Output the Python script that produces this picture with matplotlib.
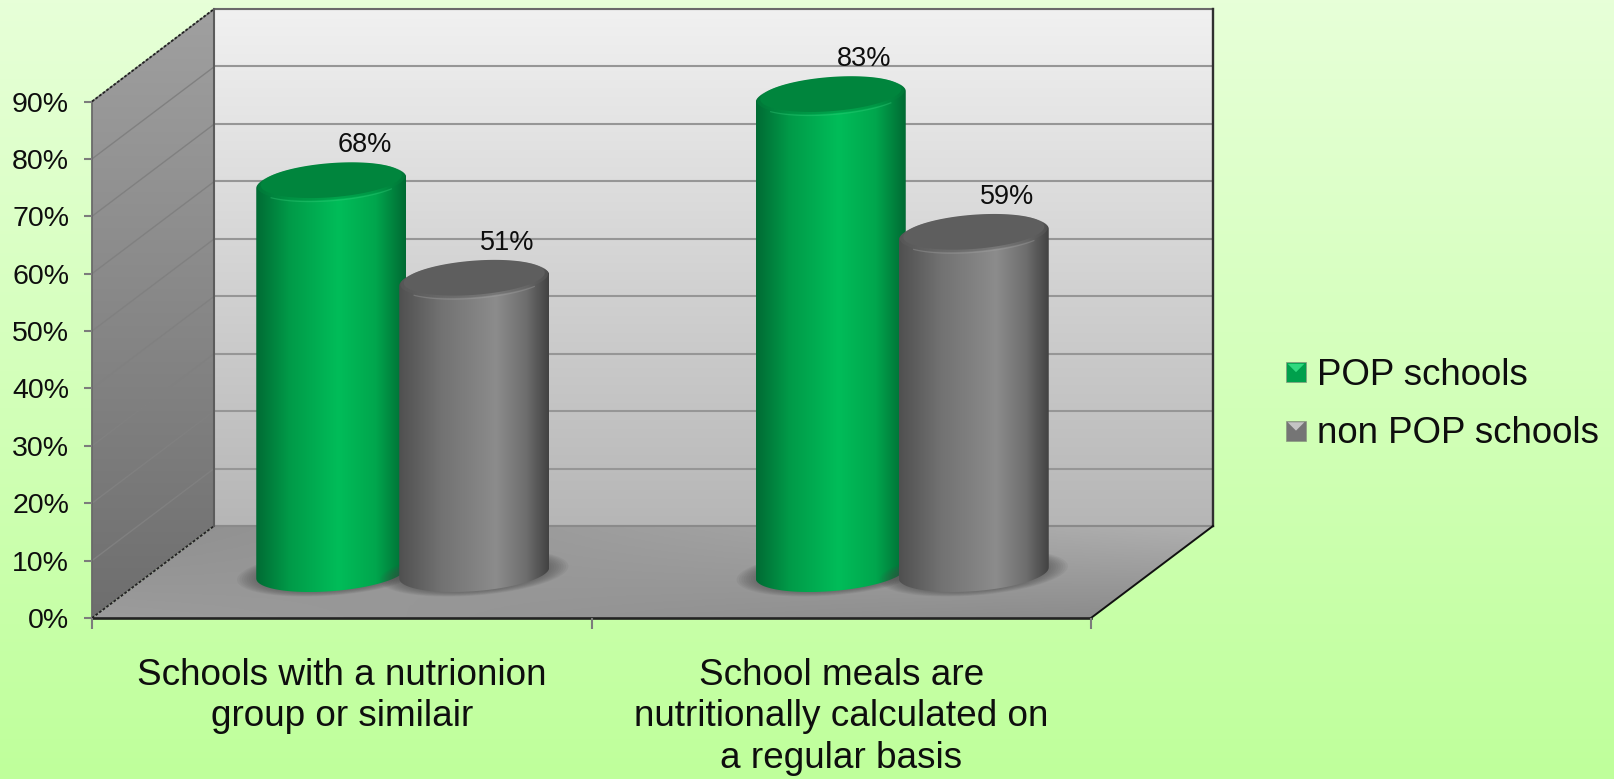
import numpy as np
import matplotlib
matplotlib.use("Agg")
import matplotlib.pyplot as plt
from matplotlib.colors import LinearSegmentedColormap, to_rgb
from matplotlib.patches import Polygon, PathPatch, Rectangle
from matplotlib.path import Path
from matplotlib.legend_handler import HandlerBase

categories = ["Schools with a nutrionion\ngroup or similair",
              "School meals are\nnutritionally calculated on\na regular basis"]
series_names = ["POP schools", "non POP schools"]
pop_values = [68, 83]
non_pop_values = [51, 59]
y_ticks = list(range(0, 100, 10))

plt.rcParams['font.family'] = ['Liberation Sans', 'DejaVu Sans']
W, H = 1614, 779
fig = plt.figure(figsize=(W / 100, H / 100), dpi=100)

# layout in pixels
FL, FB, FT = 92, 618, 101.5
BL, BB, BT = 214, 526, 9
SPAN = 999
PX_Y = (FB - FT) / 90
TXT = '#0e0e0e'


def axes_px(left, top, right, bottom, z):
    a = fig.add_axes([left / W, 1 - bottom / H, (right - left) / W, (bottom - top) / H])
    a.set_zorder(z)
    a.patch.set_alpha(0)
    return a


def lin(c1, c2, n=256):
    t = np.linspace(0, 1, n)[:, None]
    return np.array(to_rgb(c1)) * (1 - t) + np.array(to_rgb(c2)) * t


# background and frame
bg = axes_px(0, 0, W, H, 0)
bg.set_xlim(0, W)
bg.set_ylim(H, 0)
bg.axis('off')
bg.imshow(lin('#e7ffd8', '#bfff9b')[:, None, :], extent=(0, W, H, 0), aspect='auto', zorder=0)

side = Polygon([(FL, FT), (BL, BT), (BL, BB), (FL, FB)], closed=True, fc='none', ec='none')
bg.add_patch(side)
im = bg.imshow(lin('#a0a0a0', '#6e6e6e')[:, None, :], extent=(FL, BL, FB, BT), aspect='auto', zorder=1)
im.set_clip_path(side)

floor = Polygon([(BL, BB), (BL + SPAN, BB), (FL + SPAN, FB), (FL, FB)], closed=True, fc='none', ec='none')
bg.add_patch(floor)
u = np.linspace(0, 1, 128)[None, :, None]
v = np.linspace(0, 1, 64)[:, None, None]
tl, tr, bl_, br = [np.array(to_rgb(c)) for c in ('#8e8e8e', '#b0b0b0', '#9c9c9c', '#8a8a8a')]
fimg = (1 - v) * ((1 - u) * tl + u * tr) + v * ((1 - u) * bl_ + u * br)
im = bg.imshow(fimg, extent=(FL, BL + SPAN, FB, BB), aspect='auto', zorder=1)
im.set_clip_path(floor)
bg.set_xlim(0, W)
bg.set_ylim(H, 0)

# back wall
back = axes_px(BL, BT, BL + SPAN, BB, 1)
back.imshow(lin('#f1f1f1', '#b6b6b6')[:, None, :], extent=(0, 2, 0, 90), aspect='auto', zorder=0)
back.set_xlim(0, 2)
back.set_ylim(0, 90)
back.set_yticks(y_ticks)
back.set_xticks([])
back.tick_params(length=0, labelleft=False)
back.grid(axis='y', color='#969696', lw=1.5, zorder=1)
back.set_axisbelow(False)
for s in back.spines.values():
    s.set_visible(False)

# front axes: ticks and labels
front = axes_px(FL, FT, FL + SPAN, FB, 2)
front.set_xlim(0, 2)
front.set_ylim(0, 90)
front.set_yticks(y_ticks)
front.set_yticklabels([f"{t}%" for t in y_ticks])
front.set_xticks([0, 1, 2])
front.set_xticklabels([])
front.set_xticks([0.5, 1.5], minor=True)
front.set_xticklabels(categories, minor=True, fontsize=26.6, color=TXT, linespacing=1.245,
                      va='top', ha='center')
front.tick_params(axis='y', length=6, width=1.5, color='#7c7c7c', pad=10.5, labelsize=20.5, labelcolor=TXT)
front.tick_params(axis='x', which='major', length=8, width=1.5, color='#7c7c7c')
front.tick_params(axis='x', which='minor', length=0, pad=28.5)
for s in front.spines.values():
    s.set_visible(False)

# frame lines drawn above walls
dx, dy = BL - FL, BB - FB
for t in y_ticks[1:]:
    yf = FB - t * PX_Y
    bg.plot([FL, BL], [yf, yf + dy], color='#808080', lw=1.0, zorder=2)
bg.plot([FL, FL], [FT, FB], color='#6a6a6a', lw=1.3, zorder=3)
bg.plot([FL, BL], [FT, BT], color='#222222', lw=1.3, ls=(0, (1.5, 1)), zorder=3)
bg.plot([FL, BL], [FB, BB], color='#222222', lw=1.3, ls=(0, (1.5, 1)), zorder=3)
back_frame = axes_px(0, 0, W, H, 1.5)
back_frame.set_xlim(0, W)
back_frame.set_ylim(H, 0)
back_frame.axis('off')
back_frame.plot([BL, BL + SPAN], [BT, BT], color='#6a6a6a', lw=1.5)
back_frame.plot([BL, BL + SPAN], [BB, BB], color='#8a8a8a', lw=1.5)
back_frame.plot([BL + SPAN, BL + SPAN], [BT, BB], color='#303030', lw=1.7)
back_frame.plot([BL, BL], [BT, BB], color='#5c5c5c', lw=1.5)
back_frame.plot([BL + SPAN, FL + SPAN], [BB, FB], color='#111111', lw=1.4)
back_frame.plot([FL, FL + SPAN], [FB, FB], color='#222222', lw=1.9)
back_frame.set_xlim(0, W)
back_frame.set_ylim(H, 0)

# cylinders
Y_LOW = -6
BASE_PX = 573
bars = axes_px(FL + 61, BASE_PX - 90 * PX_Y, FL + 61 + SPAN, BASE_PX - Y_LOW * PX_Y, 3)
bars.set_xlim(0, 2)
bars.set_ylim(Y_LOW, 90)
bars.axis('off')
SX, SY = 2 / SPAN, 1 / PX_Y
A, B, TILT = 75 * SX, 18.2 * SY, 5.5 * SY
OFFSET = 71.5 * SX

green_cmap = LinearSegmentedColormap.from_list('g', [(0, '#006b34'), (.22, '#009a48'), (.55, '#00bd59'),
                                                     (.8, '#00a64d'), (1, '#006a33')])
grey_cmap = LinearSegmentedColormap.from_list('k', [(0, '#505050'), (.28, '#727272'), (.65, '#8c8c8c'),
                                                    (.85, '#6e6e6e'), (1, '#424242')])
styles = [(green_cmap, '#00853d', '#3ad07e'), (grey_cmap, '#5e5e5e', '#a6a6a6')]


def ell(cx, cy, t, scale=1.0):
    return (cx + scale * A * np.cos(t), cy + scale * (B * np.sin(t) + TILT * np.cos(t)))


def cylinder(xc, value, style, z):
    cmap, top, glint = style
    full = np.linspace(0, 2 * np.pi, 120)
    for k in range(8, 0, -1):
        x = xc + (1 + 0.032 * k) * A * np.cos(full)
        y = (1 + 0.03 * k) * (B * np.sin(full) + TILT * np.cos(full))
        bars.fill(x, y, color='#4a4a4a', alpha=0.08, lw=0, zorder=z - 0.5)
    t_low = np.linspace(np.pi, 2 * np.pi, 80)
    t_up = np.linspace(0, np.pi, 80)
    bx, by = ell(xc, 0, t_low)
    tx, ty = ell(xc, value, t_up)
    verts = np.column_stack([np.r_[bx, tx], np.r_[by, ty]])
    clip = PathPatch(Path(np.vstack([verts, verts[0]]), closed=True), fc='none', ec='none', transform=bars.transData)
    bars.add_patch(clip)
    grad = np.linspace(0, 1, 256)[None, :]
    im = bars.imshow(grad, cmap=cmap, extent=(xc - A, xc + A, Y_LOW, 90), aspect='auto', zorder=z)
    im.set_clip_path(clip)
    x, y = ell(xc, value + 0.2, full, 0.985)
    bars.fill(x, y, color=top, alpha=0.45, lw=0, zorder=z + 0.1)
    x, y = ell(xc, value + 0.45, full, 0.94)
    bars.fill(x, y, color=top, lw=0, zorder=z + 0.2)
    x, y = ell(xc, value, np.linspace(np.pi * 1.2, np.pi * 1.8, 40), 0.99)
    bars.plot(x, y, color=glint, lw=0.9, alpha=0.35, zorder=z + 0.3)
    bars.annotate(f"{value}%", xy=(xc, value), xytext=(24, 27), textcoords='offset points',
                  ha='center', va='center', fontsize=19.5, color=TXT, zorder=20)


for i in range(len(categories)):
    xc = i + 0.5
    cylinder(xc - OFFSET, pop_values[i], styles[0], 4)
    cylinder(xc + OFFSET, non_pop_values[i], styles[1], 6)
bars.set_xlim(0, 2)
bars.set_ylim(Y_LOW, 90)


# legend with bevelled swatches
class Swatch(HandlerBase):
    def create_artists(self, legend, orig, xd, yd, width, height, fontsize, trans):
        c1, c2 = orig.get_facecolor(), orig.get_edgecolor()
        s = width
        y0 = -yd + height / 2 - s / 2
        r = Rectangle((-xd, y0), s, s, fc=c1, ec='#8a9a80', lw=0.5, transform=trans)
        tri = Polygon([(-xd + s * .08, y0 + s * .92), (-xd + s * .92, y0 + s * .92), (-xd + s / 2, y0 + s * .5)],
                      closed=True, fc=c2, ec='none', transform=trans)
        return [r, tri]


handles = [Rectangle((0, 0), 1, 1, fc='#00a04c', ec='#2fd97f'),
           Rectangle((0, 0), 1, 1, fc='#757575', ec='#c4c4c4')]
leg = bg.legend(handles, series_names, loc='upper left', bbox_to_anchor=(1286 / W, 1 - 358 / H),
                bbox_transform=fig.transFigure, frameon=False, fontsize=26.4, labelcolor=TXT,
                borderpad=0, borderaxespad=0, handlelength=0.545, handleheight=0.7, handletextpad=0.29,
                labelspacing=0.64, handler_map={Rectangle: Swatch()})
leg.set_zorder(50)

fig.savefig("out.png", dpi=100)
